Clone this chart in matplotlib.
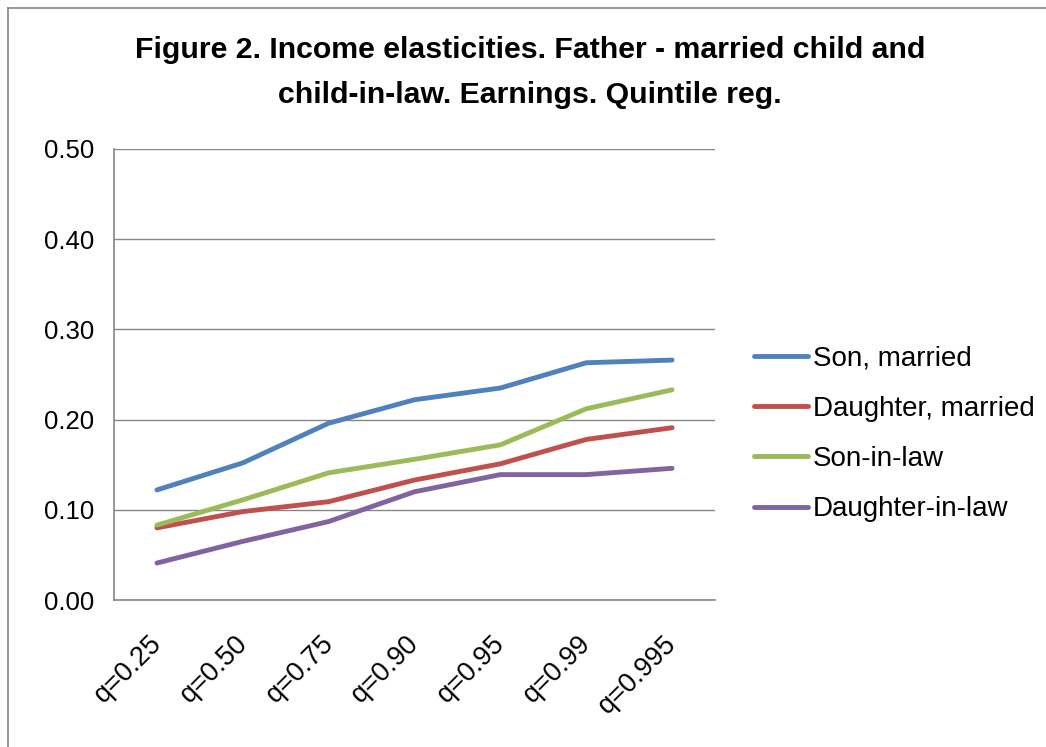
import matplotlib.pyplot as plt
import matplotlib.transforms as mtransforms
from matplotlib.lines import Line2D

quantiles = ["q=0.25", "q=0.50", "q=0.75", "q=0.90", "q=0.95", "q=0.99", "q=0.995"]
son_married = [0.122, 0.152, 0.196, 0.222, 0.235, 0.263, 0.266]
daughter_married = [0.080, 0.098, 0.109, 0.133, 0.151, 0.178, 0.191]
son_in_law = [0.083, 0.111, 0.141, 0.156, 0.172, 0.212, 0.233]
daughter_in_law = [0.041, 0.065, 0.087, 0.120, 0.139, 0.139, 0.146]

series = [
    ("Son, married", son_married, "#4F81BD"),
    ("Daughter, married", daughter_married, "#C0504D"),
    ("Son-in-law", son_in_law, "#9BBB59"),
    ("Daughter-in-law", daughter_in_law, "#8064A2"),
]

plt.rcParams['font.family'] = ['Liberation Sans', 'DejaVu Sans']

fig = plt.figure(figsize=(10.46, 7.47), dpi=100)
ax = fig.add_axes([114 / 1046, 1 - 600 / 747, (715 - 114) / 1046, (600 - 149) / 747])

x = range(len(quantiles))
for label, vals, color in series:
    ax.plot(x, vals, color=color, lw=3.5, label=label, solid_capstyle='round')

ax.set_xlim(-0.5, len(quantiles) - 0.5)
ax.set_ylim(0, 0.5)
ax.set_yticks([0, 0.1, 0.2, 0.3, 0.4, 0.5])
ax.set_yticklabels([f"{v:.2f}" for v in ax.get_yticks()])
ax.set_xticks(list(x))
ax.set_xticklabels(quantiles, rotation=45, ha='right')
ax.tick_params(axis='y', length=0, pad=14, labelsize=18.5)
ax.tick_params(axis='x', length=0, pad=22, labelsize=19.5)
offset = mtransforms.ScaledTranslation(10 / 100, 0, fig.dpi_scale_trans)
for lab in ax.get_xticklabels():
    lab.set_transform(lab.get_transform() + offset)

ax.grid(axis='y', color='#868686', lw=1)
ax.set_axisbelow(True)
for s in ['top', 'right']:
    ax.spines[s].set_visible(False)
for s in ['left', 'bottom']:
    ax.spines[s].set_color('#868686')
    ax.spines[s].set_linewidth(1.2)

fig.text(530 / 1046, 1 - 50 / 747, "Figure 2. Income elasticities. Father - married child and",
         ha='center', va='center', fontsize=21.8, fontweight='bold')
fig.text(530 / 1046, 1 - 95 / 747, "child-in-law. Earnings. Quintile reg.",
         ha='center', va='center', fontsize=21.8, fontweight='bold')

fig.legend(loc='center left', bbox_to_anchor=(754 / 1046, 1 - 434 / 747), frameon=False,
           fontsize=20, handlelength=1.94, handletextpad=0.18, labelspacing=0.87,
           borderpad=0, borderaxespad=0)

# chart area border (top and left edges visible)
fig.add_artist(Line2D([8 / 1046, 1], [1 - 8 / 747, 1 - 8 / 747], color='#868686', lw=1.2))
fig.add_artist(Line2D([8 / 1046, 8 / 1046], [0, 1 - 8 / 747], color='#868686', lw=1.2))

fig.savefig("out.png", dpi=100)
